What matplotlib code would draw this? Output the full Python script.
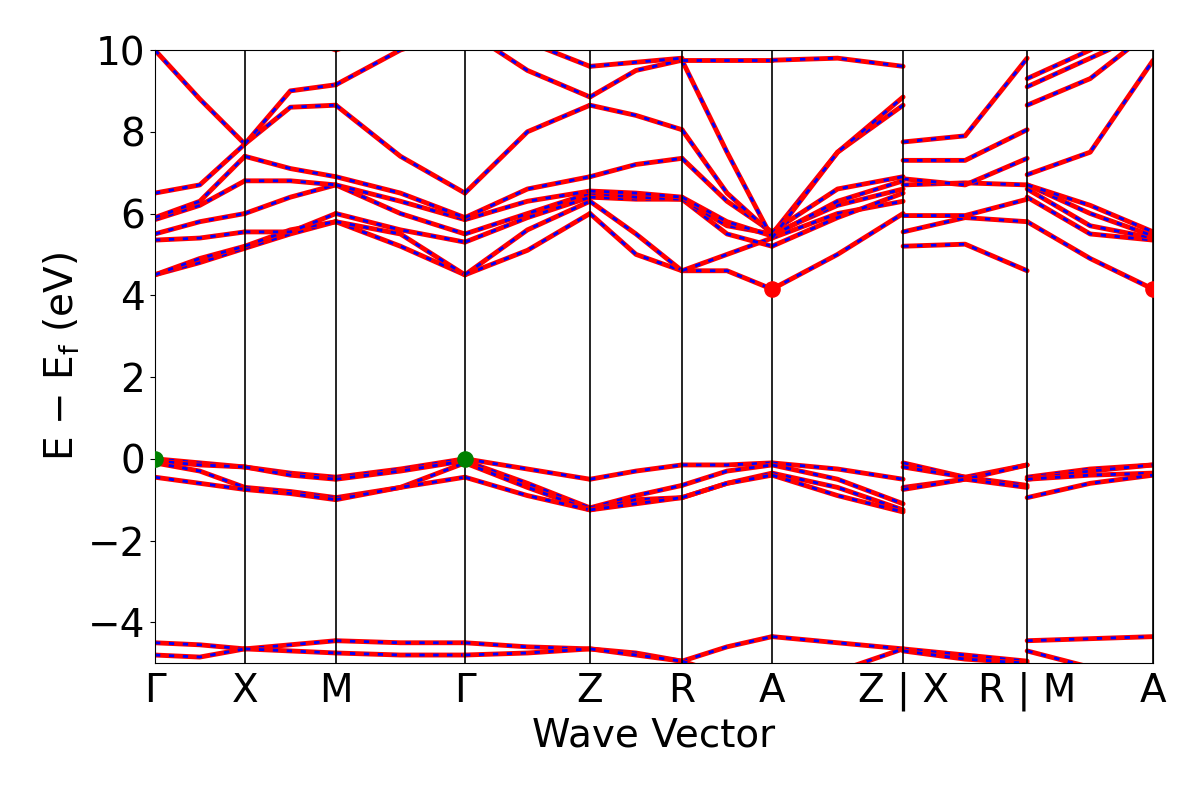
import numpy as np
import matplotlib
matplotlib.use("Agg")
import matplotlib.pyplot as plt

# k-node positions (start, mid, end) per segment
seg_bounds = [(0, 90), (90, 181), (181, 310), (310, 435), (435, 527), (527, 617), (617, 748), (748, 872), (872, 998)]
tick_pos = [0, 90, 181, 310, 435, 527, 617, 748, 872, 998]
tick_labels = ["Γ", "X", "M", "Γ", "Z", "R", "A", "Z | X", "R | M", "A"]
y_ticks = [-4, -2, 0, 2, 4, 6, 8, 10]

# Each band: 9 segments x (start, mid, end) energies in eV
bands = [
    [0,-0.1,-0.2, -0.2,-0.35,-0.45, -0.45,-0.25,0, 0,-0.25,-0.5, -0.5,-0.3,-0.15, -0.15,-0.15,-0.1, -0.1,-0.25,-0.5, -0.1,-0.45,-0.15, -0.45,-0.25,-0.15],
    [-0.05,-0.15,-0.2, -0.2,-0.4,-0.5, -0.5,-0.3,-0.05, -0.05,-0.6,-1.2, -1.2,-0.9,-0.65, -0.65,-0.3,-0.15, -0.15,-0.5,-1.1, -0.2,-0.45,-0.65, -0.5,-0.3,-0.15],
    [-0.1,-0.3,-0.7, -0.7,-0.8,-0.95, -0.95,-0.7,-0.1, -0.1,-0.7,-1.25, -1.25,-1.0,-0.95, -0.95,-0.6,-0.35, -0.35,-0.7,-1.25, -0.7,-0.5,-0.15, -0.5,-0.4,-0.35],
    [-0.45,-0.6,-0.75, -0.75,-0.85,-1.0, -1.0,-0.7,-0.45, -0.45,-0.9,-1.25, -1.25,-1.1,-0.95, -0.95,-0.6,-0.4, -0.4,-0.9,-1.3, -0.75,-0.5,-0.7, -0.95,-0.6,-0.4],
    [-4.5,-4.55,-4.65, -4.65,-4.55,-4.45, -4.45,-4.5,-4.5, -4.5,-4.6,-4.65, -4.65,-4.75,-4.95, -4.95,-4.6,-4.35, -4.35,-4.5,-4.65, -4.65,-4.8,-4.95, -4.45,-4.4,-4.35],
    [-4.8,-4.85,-4.65, -4.65,-4.7,-4.75, -4.75,-4.8,-4.8, -4.8,-4.75,-4.65, -4.65,-4.8,-4.95, -4.95,-5.3,-5.5, -5.5,-5.2,-4.65, -4.7,-4.9,-5.0, -4.7,-5.1,-5.5],
    [4.5,4.8,5.15, 5.15,5.5,5.8, 5.8,5.2,4.5, 4.5,5.1,6.0, 6.0,5.0,4.6, 4.6,4.6,4.15, 4.15,5.0,6.0, 5.2,5.25,4.6, 5.8,4.9,4.15],
    [4.5,4.9,5.2, 5.2,5.6,5.8, 5.8,5.5,4.5, 4.5,5.6,6.3, 6.3,5.5,4.6, 4.6,5.0,5.4, 5.4,6.0,6.3, 5.55,5.9,5.8, 6.4,5.5,5.35],
    [5.35,5.4,5.55, 5.55,5.55,6.0, 6.0,5.6,5.3, 5.3,5.9,6.4, 6.4,6.35,6.35, 6.35,5.5,5.2, 5.2,5.9,6.5, 5.95,5.95,6.35, 6.6,5.7,5.4],
    [5.5,5.8,6.0, 6.0,6.4,6.7, 6.7,6.0,5.5, 5.5,6.0,6.5, 6.5,6.4,6.35, 6.35,5.7,5.5, 5.5,6.2,6.6, 6.7,6.75,6.7, 6.7,6.0,5.45],
    [5.85,6.2,6.8, 6.8,6.8,6.7, 6.7,6.3,5.85, 5.85,6.3,6.55, 6.55,6.5,6.4, 6.4,5.8,5.45, 5.45,6.3,6.8, 6.85,6.7,7.35, 6.7,6.2,5.55],
    [5.9,6.3,7.4, 7.4,7.1,6.9, 6.9,6.5,5.9, 5.9,6.6,6.9, 6.9,7.2,7.35, 7.35,6.3,5.55, 5.55,6.6,6.9, 7.3,7.3,8.05, 6.95,7.5,9.75],
    [6.5,6.7,7.7, 7.7,8.6,8.65, 8.65,7.4,6.5, 6.5,8.0,8.65, 8.65,8.4,8.05, 8.05,6.5,5.5, 5.5,7.5,8.65, 7.75,7.9,9.8, 8.65,9.3,10.5],
    [10.0,8.8,7.7, 7.7,9.0,9.15, 9.15,10.0,10.5, 10.5,9.5,8.85, 8.85,9.5,9.75, 9.75,7.5,5.4, 5.4,7.5,8.85, 10.5,10.8,11.0, 9.1,9.8,10.5],
    [10.2,10.5,11.0, 11.0,10.4,10.0, 10.0,10.5,11.0, 11.0,10.2,9.6, 9.6,9.7,9.8, 9.75,9.75,9.75, 9.75,9.8,9.6, 11.0,11.0,11.0, 9.3,10.0,10.8],
]
vbm_k = [0, 310]; vbm_e = [0.0, 0.0]
cbm_k = [617, 998]; cbm_e = [4.15, 4.15]

fig = plt.figure(figsize=(12, 8), dpi=100)
ax = fig.add_axes([0.129, 0.171, 0.832, 0.7665])
for b in bands:
    for s, (k0, k1) in enumerate(seg_bounds):
        ks = [k0, (k0 + k1) / 2, k1]
        es = b[3 * s:3 * s + 3]
        ax.plot(ks, es, color="red", lw=3.5, solid_capstyle="round")
        ax.plot(ks, es, color="blue", lw=2, ls=(0, (2, 3)))
        ax.plot(ks, es, color="red", lw=2, ls=(2.5, (2.5, 2.5)))
for t in tick_pos:
    ax.axvline(t, color="black", lw=1.2)
ax.scatter(vbm_k, vbm_e, color="green", s=120, zorder=5)
ax.scatter(cbm_k, cbm_e, color="red", s=120, zorder=5)
ax.set_xlim(0, 998)
ax.set_ylim(-5, 10)
ax.set_yticks(y_ticks)
ax.set_xticks(tick_pos)
ax.set_xticklabels(tick_labels, fontsize=28)
ax.tick_params(axis="y", labelsize=28)
ax.tick_params(axis="x", length=0, pad=6)
ax.set_xlabel("Wave Vector", fontsize=28)
ax.set_ylabel(r"E $-$ E$_\mathrm{f}$ (eV)", fontsize=28)
fig.savefig("out.png")
